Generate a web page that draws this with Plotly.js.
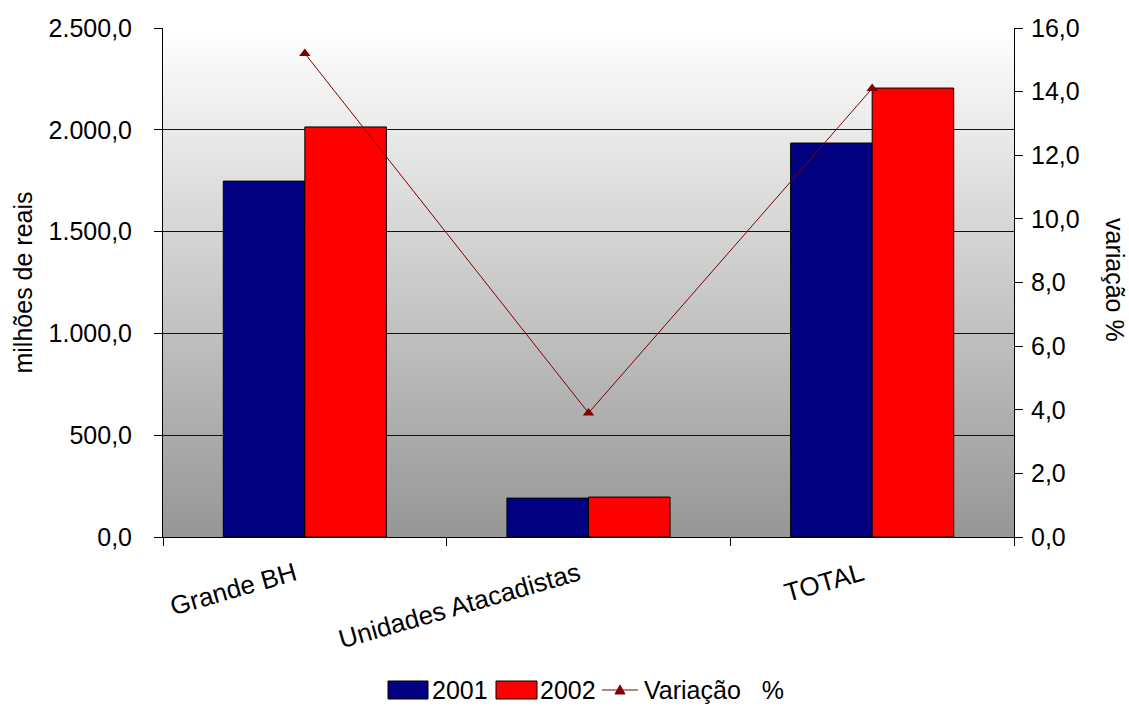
<!DOCTYPE html>
<html>
<head>
<meta charset="utf-8">
<script src="https://cdn.plot.ly/plotly-3.0.1.min.js"></script>
<style>html,body{margin:0;padding:0;background:#fff;}#chart{width:1129px;height:707px;}</style>
</head>
<body>
<div id="chart"></div>
<script>
const categories = ["Grande BH", "Unidades Atacadistas", "TOTAL"];
const values2001 = [1748, 191, 1935];
const values2002 = [2014, 196, 2205];
const variacao = [15.2, 3.9, 14.1];
const seriesNames = ["2001", "2002", "Variação   %"];
const seriesColors = ["#000080", "#ff0000", "#800000"];

const gradSvg = '<svg xmlns="http://www.w3.org/2000/svg" width="10" height="100" preserveAspectRatio="none">' +
  '<defs><linearGradient id="g" x1="0" y1="0" x2="0" y2="1">' +
  '<stop offset="0" stop-color="#ffffff"/><stop offset="1" stop-color="#969696"/>' +
  '</linearGradient></defs><rect width="10" height="100" fill="url(#g)"/></svg>';
const gradUri = 'data:image/svg+xml;base64,' + btoa(gradSvg);

const font = {family: "Liberation Sans, Arial, sans-serif", size: 25, color: "#000"};
const xfont = {family: "Liberation Sans, Arial, sans-serif", size: 26, color: "#000"};

const data = [
  {type: "bar", name: seriesNames[0], x: categories, y: values2001,
   marker: {color: seriesColors[0], line: {color: "#000", width: 1}}},
  {type: "bar", name: seriesNames[1], x: categories, y: values2002,
   marker: {color: seriesColors[1], line: {color: "#000", width: 1}}},
  {type: "scatter", mode: "lines+markers", name: seriesNames[2], x: categories, y: variacao,
   yaxis: "y2", line: {color: seriesColors[2], width: 1},
   marker: {symbol: "triangle-up", size: 10, color: seriesColors[2]}}
];

// custom legend (paper coordinates), plot area: x 163..1014, y 28..537
const W = 851, H = 509;
const px = x => (x - 163) / W;
const py = y => (537 - y) / H;
const shapes = [
  {type: "rect", xref: "paper", yref: "paper", x0: px(388), x1: px(428), y0: py(699), y1: py(681),
   fillcolor: seriesColors[0], line: {color: "#000", width: 1}},
  {type: "rect", xref: "paper", yref: "paper", x0: px(496), x1: px(537), y0: py(699), y1: py(681),
   fillcolor: seriesColors[1], line: {color: "#000", width: 1}},
  {type: "line", xref: "paper", yref: "paper", x0: px(602), x1: px(638), y0: py(690), y1: py(690),
   line: {color: seriesColors[2], width: 1}},
  {type: "path", xref: "paper", yref: "paper",
   path: `M ${px(615)} ${py(694)} L ${px(625)} ${py(694)} L ${px(620)} ${py(685)} Z`,
   fillcolor: seriesColors[2], line: {color: seriesColors[2], width: 1}}
];
const legendText = [
  {text: seriesNames[0], x: px(430)},
  {text: seriesNames[1], x: px(538)},
  {text: seriesNames[2].replace(/ /g, "&nbsp;"), x: px(642)}
].map(t => ({text: t.text, xref: "paper", yref: "paper", x: t.x, y: py(690), xanchor: "left",
             yanchor: "middle", showarrow: false, font: font}));

const layout = {
  width: 1129, height: 707,
  margin: {l: 163, r: 115, t: 28, b: 170},
  paper_bgcolor: "#fff",
  plot_bgcolor: "rgba(0,0,0,0)",
  font: font,
  separators: ",.",
  barmode: "group",
  bargap: 0.425,
  bargroupgap: 0,
  showlegend: false,
  images: [{source: gradUri, xref: "paper", yref: "paper", x: 0, y: 1, sizex: 1, sizey: 1,
            sizing: "stretch", layer: "below", xanchor: "left", yanchor: "top"}],
  xaxis: {
    type: "category", tickangle: -16, tickfont: xfont, automargin: false,
    ticklabelstandoff: 11, ticklabelshift: -10,
    showline: true, linecolor: "#000", linewidth: 1,
    ticks: "outside", tickson: "boundaries", ticklen: 8, tickcolor: "#000",
    showgrid: false, zeroline: false
  },
  yaxis: {
    range: [0, 2500], dtick: 500, tickformat: ",.1f", tickfont: font, automargin: false,
    ticklabelstandoff: 17,
    showline: true, linecolor: "#000", linewidth: 1,
    ticks: "outside", ticklen: 8, tickcolor: "#000",
    showgrid: true, gridcolor: "#111", gridwidth: 1, zeroline: false,
    title: {text: "milhões de reais", font: font, standoff: 8}
  },
  yaxis2: {
    overlaying: "y", side: "right", range: [0, 16], dtick: 2, tickformat: ".1f", tickfont: font,
    automargin: false, ticklabelstandoff: 3,
    showline: true, linecolor: "#000", linewidth: 1,
    ticks: "outside", ticklen: 8, tickcolor: "#000",
    showgrid: false, zeroline: false
  },
  shapes: shapes,
  annotations: [{text: "variação %", xref: "paper", yref: "paper", x: px(1115), y: py(280),
                 textangle: 90, showarrow: false, font: font, xanchor: "center", yanchor: "middle"}]
                 .concat(legendText)
};

Plotly.newPlot("chart", data, layout, {displayModeBar: false, staticPlot: true});
</script>
</body>
</html>
